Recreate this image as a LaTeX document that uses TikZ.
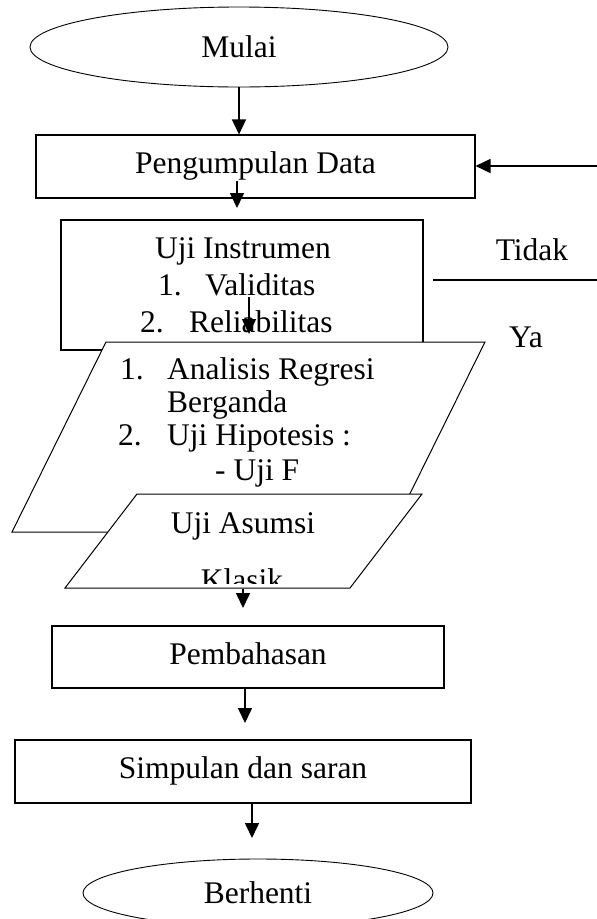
\documentclass[tikz,border=0pt]{standalone}
\usepackage{fontspec}
\setmainfont{Liberation Serif}
\usetikzlibrary{shapes.geometric,arrows.meta}
\begin{document}
\begin{tikzpicture}[x=1pt,y=-1pt,
  every node/.style={font=\fontsize{31.5}{37}\selectfont},
  box/.style={draw, line width=1.1pt, rectangle, inner sep=0pt, text height=21pt, text depth=7pt},
  oval/.style={draw, line width=0.9pt, ellipse, inner sep=0pt},
  arr/.style={line width=1.6pt, -{Triangle[length=15pt,width=14pt]}},
  para/.style={draw, fill=white, line width=1pt},
  txt/.style={inner sep=0pt, anchor=base},
  txtw/.style={inner sep=0pt, anchor=base west}]
\useasboundingbox (0,0) rectangle (597,919);
\fill[white] (0,0) rectangle (597,919);

% Mulai
\node[oval, minimum width=418pt, minimum height=80pt] (mulai) at (239,47) {Mulai};
% Pengumpulan Data
\node[box, minimum width=439pt, minimum height=63pt] (kumpul) at (255.5,166.5) {Pengumpulan Data};
\draw[arr] (mulai.south) -- (mulai.south |- kumpul.north);
\coordinate (back) at (597,166);
\draw[arr] (back) -- (kumpul.east |- back);
\coordinate (k1) at (237,181);
\coordinate (k2) at (237,208);
\draw[arr] (k1) -- (k2);

% Uji Instrumen
\node[box, minimum width=362pt, minimum height=130pt] (uji) at (242,285) {};
\node[txt] (ujit) at (243,258) {Uji Instrumen};
\node[txtw] (n1) at (158,295) {1.};
\node[txtw] (val) at (205,295) {Validitas};
\node[txtw] (n2) at (140,332) {2.};
\node[txtw] (rel) at (189,332) {Reliabilitas};
\coordinate (u1) at (249,297);
\coordinate (u2) at (249,334);
\draw[arr] (u1) -- (u2);

% Tidak / Ya
\node[txt] (tidak) at (532,260) {Tidak};
\coordinate (t1) at (433,280);
\coordinate (t2) at (597,280);
\draw[line width=1.6pt] (t1) -- (t2);
\node[txt] (ya) at (526,347) {Ya};

% Analisis parallelogram
\draw[para] (106,342) coordinate (p1a) -- (485,342) coordinate (p1b) -- (391,532) coordinate (p1c) -- (12,532) coordinate (p1d) -- cycle;
\node[txtw] (a1) at (120,379) {1.};
\node[txtw] (a1t) at (167,379) {Analisis Regresi};
\node[txtw] (a1u) at (167,412) {Berganda};
\node[txtw] (a2) at (118,445) {2.};
\node[txtw] (a2t) at (167,445) {Uji Hipotesis :};
\node[txtw] (a2u) at (215,480) {- Uji F};

% Uji Asumsi parallelogram
\draw[para] (137,494) coordinate (p2a) -- (422,494) coordinate (p2b) -- (350,588) coordinate (p2c) -- (65,588) coordinate (p2d) -- cycle;
\node[txt] (asumsi) at (243,533) {Uji Asumsi};
\begin{scope}
  \clip (0,494) rectangle (597,583);
  \node[txt] (klasik) at (242,590) {Klasik};
\end{scope}
\coordinate (s1) at (243,589);
\coordinate (s2) at (243,608);
\draw[arr] (s1) -- (s2);

% Pembahasan
\node[box, minimum width=392pt, minimum height=62pt] (bahas) at (248,657) {Pembahasan};
\coordinate (b2) at (245,723);
\draw[arr] (bahas.south -| b2) -- (b2);

% Simpulan
\node[box, minimum width=456pt, minimum height=63pt] (simpul) at (243,771.5) {Simpulan dan saran};
\coordinate (c2) at (252,838);
\draw[arr] (simpul.south -| c2) -- (c2);

% Berhenti
\node[oval, minimum width=350pt, minimum height=68pt] (stop) at (258,893) {Berhenti};
\end{tikzpicture}
\end{document}
